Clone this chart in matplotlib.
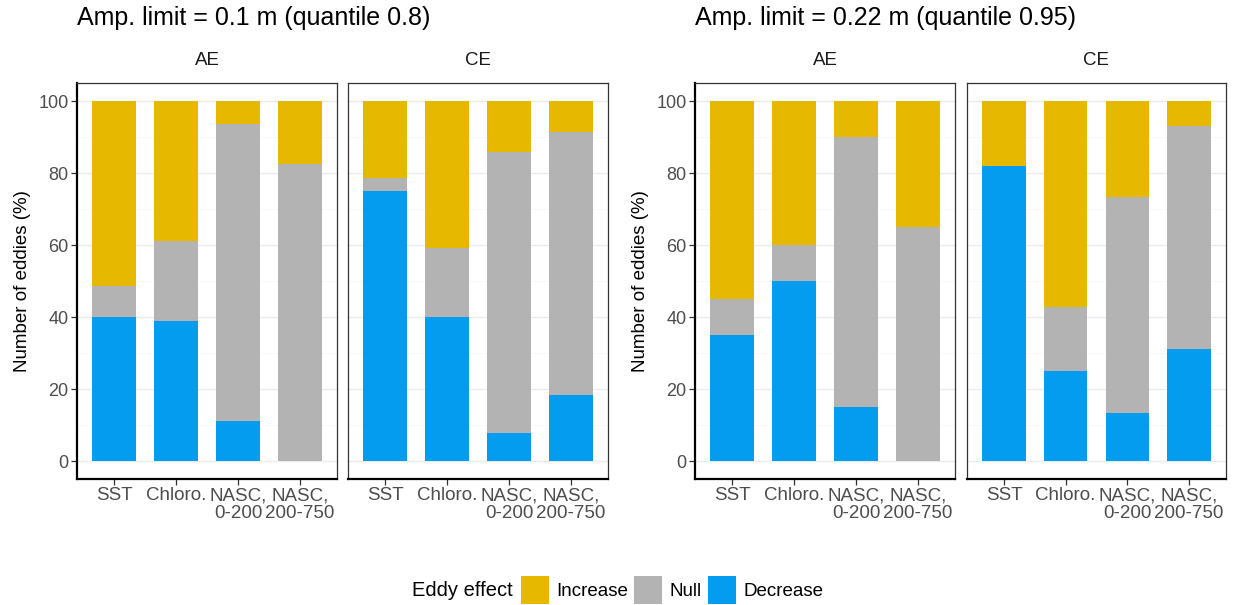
import numpy as np
import matplotlib.pyplot as plt
from matplotlib.patches import Patch

plt.rcParams['font.family'] = ['Liberation Sans', 'DejaVu Sans']

categories = ['SST', 'Chloro.', 'NASC,\n0-200', 'NASC,\n200-750']
effects = ['Increase', 'Null', 'Decrease']
colors = {'Increase': '#E6B800', 'Null': '#B3B3B3', 'Decrease': '#049CEF'}

titles = ['Amp. limit = 0.1 m (quantile 0.8)', 'Amp. limit = 0.22 m (quantile 0.95)']
facets = ['AE', 'CE']

# percent of eddies per category: decrease / null (increase is the rest)
decrease_q08_ae = [40.0, 38.8, 11.0, 0.0]
null_q08_ae = [8.6, 22.2, 82.7, 82.5]
decrease_q08_ce = [75.0, 39.9, 7.9, 18.2]
null_q08_ce = [3.6, 19.2, 77.8, 73.3]
decrease_q095_ae = [35.0, 50.0, 15.0, 0.0]
null_q095_ae = [10.0, 10.0, 75.0, 65.0]
decrease_q095_ce = [82.0, 25.0, 13.3, 31.0]
null_q095_ce = [0.0, 17.7, 60.0, 62.0]

data = [
    [(decrease_q08_ae, null_q08_ae), (decrease_q08_ce, null_q08_ce)],
    [(decrease_q095_ae, null_q095_ae), (decrease_q095_ce, null_q095_ce)],
]

W, H = 1236, 605
fig = plt.figure(figsize=(W / 100, H / 100), dpi=100)

# panel boxes in pixels: (left, right)
panel_x = [[(77, 337), (348, 608)], [(695, 955), (967, 1226)]]
top, bottom = 83, 479

x = np.arange(len(categories))
for g in range(2):
    for f in range(2):
        l, r = panel_x[g][f]
        ax = fig.add_axes([l / W, 1 - bottom / H, (r - l) / W, (bottom - top) / H])
        dec, nul = data[g][f]
        dec = np.array(dec)
        nul = np.array(nul)
        inc = 100 - dec - nul
        ax.bar(x, dec, width=0.7, color=colors['Decrease'], zorder=2)
        ax.bar(x, nul, width=0.7, bottom=dec, color=colors['Null'], zorder=2)
        ax.bar(x, inc, width=0.7, bottom=dec + nul, color=colors['Increase'], zorder=2)
        ax.set_xlim(-0.6, 3.6)
        ax.set_ylim(-5, 105)
        ax.set_yticks([0, 20, 40, 60, 80, 100])
        ax.set_yticks([10, 30, 50, 70, 90], minor=True)
        ax.grid(axis='y', which='major', color='#EBEBEB', lw=0.9, zorder=0)
        ax.grid(axis='y', which='minor', color='#F5F5F5', lw=0.5, zorder=0)
        ax.set_xticks(x)
        ax.set_xticklabels(categories, fontsize=13.5, color='#4D4D4D', linespacing=1.05)
        ax.tick_params(axis='both', length=4, width=0.9, color='#333333',
                       labelcolor='#4D4D4D', pad=2)
        ax.tick_params(axis='y', labelsize=13)
        ax.tick_params(axis='y', which='minor', length=0)
        for s in ax.spines.values():
            s.set_color('#333333')
            s.set_linewidth(0.9)
        ax.spines['bottom'].set_linewidth(1.6)
        ax.spines['bottom'].set_color('black')
        ax.spines['left'].set_linewidth(1.6)
        ax.spines['left'].set_color('black')
        if f == 0:
            ax.set_ylabel('Number of eddies (%)', fontsize=13.5, color='black', labelpad=5)
        else:
            ax.spines['left'].set_linewidth(0.9)
            ax.spines['left'].set_color('#333333')
            ax.set_yticklabels([])
            ax.tick_params(axis='y', length=0)
        ax.set_title(facets[f], fontsize=13.5, color='#1A1A1A', pad=13)
    fig.text(panel_x[g][0][0] / W, 1 - 18 / H, titles[g], fontsize=18,
             va='center', ha='left', color='black')

# legend along the bottom, title drawn beside the keys
fig.text(412 / W, 1 - 590 / H, 'Eddy effect', fontsize=14.5, va='center', ha='left')
handles = [Patch(facecolor=colors[e], edgecolor='none', label=e) for e in effects]
fig.legend(handles=handles, loc='center left', bbox_to_anchor=(521 / W, 1 - 590 / H),
           ncol=3, frameon=False, fontsize=13.5, borderpad=0, borderaxespad=0,
           handlelength=1.5, handleheight=1.9, handletextpad=0.4, columnspacing=0.3)

fig.savefig('out.png', dpi=100)
